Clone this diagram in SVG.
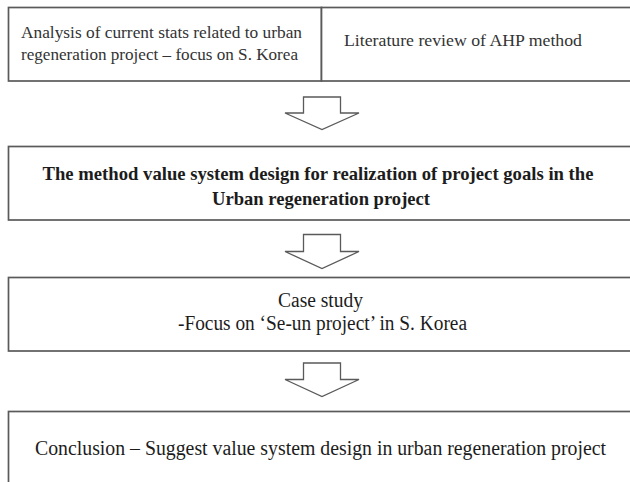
<svg xmlns="http://www.w3.org/2000/svg" width="630" height="482" viewBox="0 0 630 482">
<style>
.box{fill:#fff;stroke:#5a5a5a;stroke-width:1.7}
.arrow{fill:#fff;stroke:#5a5a5a;stroke-width:1.3;stroke-linejoin:miter}
.t{font-family:"Liberation Serif","Times New Roman",serif;fill:#1c1c1c}
.s{font-size:17px;fill:#333}
.b{font-size:19px;font-weight:bold}
.r{font-size:20px}
</style>
<rect width="630" height="482" fill="#fff"/>
<g id="node-analysis">
<rect class="box" x="8.5" y="7.5" width="313" height="73.5"/>
<text class="t s" x="21" y="38" textLength="281" lengthAdjust="spacingAndGlyphs">Analysis of current stats related to urban</text>
<text class="t s" x="21" y="60" textLength="277" lengthAdjust="spacingAndGlyphs">regeneration project – focus on S. Korea</text>
</g>
<g id="node-literature">
<rect class="box" x="321.5" y="7.5" width="310" height="73.5"/>
<text class="t s" x="344" y="46" textLength="238" lengthAdjust="spacingAndGlyphs">Literature review of AHP method</text>
</g>
<g id="node-method">
<rect class="box" x="8.5" y="146.5" width="623" height="73.5"/>
<text class="t b" x="318" y="180" text-anchor="middle" textLength="551" lengthAdjust="spacingAndGlyphs">The method value system design for realization of project goals in the</text>
<text class="t b" x="321" y="205" text-anchor="middle" textLength="218" lengthAdjust="spacingAndGlyphs">Urban regeneration project</text>
</g>
<g id="node-case">
<rect class="box" x="8.5" y="277.5" width="623" height="73.5"/>
<text class="t r" x="320.5" y="306.5" text-anchor="middle" textLength="85" lengthAdjust="spacingAndGlyphs">Case study</text>
<text class="t r" x="322.5" y="330" text-anchor="middle" textLength="289" lengthAdjust="spacingAndGlyphs">-Focus on ‘Se-un project’ in S. Korea</text>
</g>
<g id="node-conclusion">
<rect class="box" x="8.5" y="411.5" width="623" height="90"/>
<text class="t r" x="320.5" y="455" text-anchor="middle" textLength="571" lengthAdjust="spacingAndGlyphs">Conclusion – Suggest value system design in urban regeneration project</text>
</g>
<g id="connectors">
<path class="arrow" d="M303.5,97 H340.5 V113 H359 L322,129.5 L285,113 H303.5 Z"/>
<path class="arrow" d="M303.5,234.5 H340.5 V251.5 H359 L322,268.5 L285,251.5 H303.5 Z"/>
<path class="arrow" d="M303.5,363 H340.5 V379.5 H359 L322,396.5 L285,379.5 H303.5 Z"/>
</g>
</svg>
